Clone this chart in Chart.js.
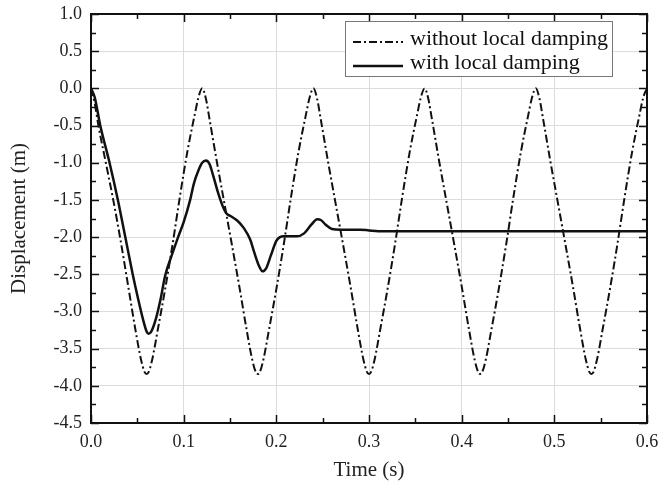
<!DOCTYPE html>
<html lang="en">
<head>
<meta charset="UTF-8">
<title>Displacement vs Time</title>
<script src="https://cdn.jsdelivr.net/npm/chart.js@4.4.0/dist/chart.umd.min.js"></script>
<style>
  html, body { margin: 0; padding: 0; background: #fff; }
  #wrap { width: 659px; height: 486px; position: relative; }
</style>
</head>
<body>
<div id="wrap"><canvas id="dispChart"></canvas></div>
<script>
// time (s) and displacement (m)
const tNoDamp = [
  0, 0.004, 0.008, 0.016, 0.024, 0.032, 0.04, 0.048, 0.054, 0.058, 0.06, 0.062, 0.066, 0.072, 0.08, 0.088, 0.096, 0.104, 0.112, 0.116,
  0.12, 0.124, 0.128, 0.136, 0.144, 0.152, 0.16, 0.168, 0.174, 0.178, 0.18, 0.182, 0.186, 0.192, 0.2, 0.208, 0.216, 0.224, 0.232, 0.236,
  0.24, 0.244, 0.248, 0.256, 0.264, 0.272, 0.28, 0.288, 0.294, 0.298, 0.3, 0.302, 0.306, 0.312, 0.32, 0.328, 0.336, 0.344, 0.352, 0.356,
  0.36, 0.364, 0.368, 0.376, 0.384, 0.392, 0.4, 0.408, 0.414, 0.418, 0.42, 0.422, 0.426, 0.432, 0.44, 0.448, 0.456, 0.464, 0.472, 0.476,
  0.48, 0.484, 0.488, 0.496, 0.504, 0.512, 0.52, 0.528, 0.534, 0.538, 0.54, 0.542, 0.546, 0.552, 0.56, 0.568, 0.576, 0.584, 0.592, 0.596, 0.6
];
const yNoDamp = [
  0, -0.2, -0.5, -1.0, -1.5, -2.05, -2.65, -3.25, -3.65, -3.82, -3.84, -3.82, -3.65, -3.25, -2.7, -2.1, -1.45, -0.85, -0.35, -0.12,
  0, -0.14, -0.42, -1.0, -1.55, -2.1, -2.66, -3.25, -3.65, -3.82, -3.84, -3.82, -3.65, -3.25, -2.7, -2.1, -1.45, -0.85, -0.35, -0.12,
  0, -0.14, -0.42, -1.0, -1.55, -2.1, -2.66, -3.25, -3.65, -3.82, -3.84, -3.82, -3.65, -3.25, -2.7, -2.1, -1.45, -0.85, -0.35, -0.12,
  0, -0.14, -0.42, -1.0, -1.55, -2.1, -2.66, -3.25, -3.65, -3.82, -3.84, -3.82, -3.65, -3.25, -2.7, -2.1, -1.45, -0.85, -0.35, -0.12,
  0, -0.14, -0.42, -1.0, -1.55, -2.1, -2.66, -3.25, -3.65, -3.82, -3.84, -3.82, -3.65, -3.25, -2.7, -2.1, -1.45, -0.85, -0.35, -0.12, 0
];
const tDamp = [
  0, 0.004, 0.01, 0.02, 0.029, 0.037, 0.045, 0.051, 0.056, 0.06, 0.062, 0.065, 0.07, 0.075, 0.08, 0.087, 0.094, 0.1, 0.107, 0.111,
  0.116, 0.12, 0.124, 0.128, 0.132, 0.137, 0.142, 0.146, 0.151, 0.158, 0.165, 0.172, 0.176, 0.181, 0.185, 0.189, 0.194, 0.2, 0.204, 0.208,
  0.215, 0.222, 0.23, 0.238, 0.244, 0.248, 0.253, 0.26, 0.27, 0.29, 0.3, 0.31, 0.35, 0.4, 0.45, 0.5, 0.55, 0.6
];
const yDamp = [
  0, -0.12, -0.5, -1.0, -1.5, -2.0, -2.5, -2.84, -3.1, -3.27, -3.3, -3.27, -3.1, -2.84, -2.52, -2.25, -2.0, -1.8, -1.5, -1.28,
  -1.1, -1.0, -0.97, -1.02, -1.18, -1.4, -1.58, -1.68, -1.72, -1.78, -1.88, -2.04, -2.2, -2.38, -2.46, -2.42, -2.25, -2.05, -2.0, -1.99,
  -1.99, -1.99, -1.95, -1.83, -1.76, -1.77, -1.83, -1.89, -1.9, -1.9, -1.91, -1.92, -1.92, -1.92, -1.92, -1.92, -1.92, -1.92
];
const seriesLabels = ['without local damping', 'with local damping'];

const serif = '"Liberation Serif", "Times New Roman", serif';

// fixed axis boxes, no extra label overflow padding
function fixBox(size) {
  return s => {
    if (s.isHorizontal()) s.height = size; else s.width = size;
    s.paddingTop = s.paddingBottom = s.paddingLeft = s.paddingRight = 0;
  };
}

// frame, inward ticks and the boxed legend inside the plot
const frameAndLegend = {
  id: 'frameAndLegend',
  afterDatasetsDraw(chart) {
    const { ctx, chartArea: a, scales: { x, y } } = chart;
    ctx.save();
    ctx.strokeStyle = '#111';
    ctx.lineWidth = 1.5;
    ctx.beginPath();
    for (let i = 0; i <= 12; i++) {
      const px = Math.round(x.getPixelForValue(i * 0.05)) + 0.5;
      const len = i % 2 === 0 ? 8 : 5;
      ctx.moveTo(px, a.bottom); ctx.lineTo(px, a.bottom - len);
      ctx.moveTo(px, a.top); ctx.lineTo(px, a.top + len);
    }
    for (let i = 0; i <= 22; i++) {
      const py = Math.round(y.getPixelForValue(-4.5 + i * 0.25)) + 0.5;
      const len = i % 2 === 0 ? 8 : 5;
      ctx.moveTo(a.left, py); ctx.lineTo(a.left + len, py);
      ctx.moveTo(a.right, py); ctx.lineTo(a.right - len, py);
    }
    ctx.stroke();
    ctx.lineWidth = 2;
    ctx.strokeRect(a.left, a.top, a.right - a.left, a.bottom - a.top);

    // legend
    const bx = a.right - 35, by = a.top + 7, bw = 267, bh = 55;
    ctx.fillStyle = '#fff';
    ctx.fillRect(bx - bw, by, bw, bh);
    ctx.strokeStyle = '#777';
    ctx.lineWidth = 1;
    ctx.strokeRect(bx - bw + 0.5, by + 0.5, bw, bh);
    const rows = [by + 24, by + 48];
    ctx.font = '22px ' + serif;
    ctx.textBaseline = 'alphabetic';
    ctx.fillStyle = '#111';
    chart.data.datasets.forEach((ds, i) => {
      const ly = rows[i];
      ctx.save();
      ctx.strokeStyle = ds.borderColor;
      ctx.lineWidth = ds.borderWidth;
      ctx.setLineDash(ds.borderDash || []);
      ctx.beginPath();
      ctx.moveTo(bx - bw + 8, ly - 3);
      ctx.lineTo(bx - bw + 58, ly - 3);
      ctx.stroke();
      ctx.restore();
      ctx.fillText(ds.label, bx - bw + 65, ly);
    });
    ctx.restore();
  }
};

new Chart(document.getElementById('dispChart'), {
  type: 'line',
  data: {
    datasets: [
      {
        label: seriesLabels[0],
        data: tNoDamp.map((t, i) => ({ x: t, y: yNoDamp[i] })),
        borderColor: '#111',
        borderWidth: 2,
        borderDash: [8, 3, 2, 3],
        pointRadius: 0,
        cubicInterpolationMode: 'monotone',
        fill: false
      },
      {
        label: seriesLabels[1],
        data: tDamp.map((t, i) => ({ x: t, y: yDamp[i] })),
        borderColor: '#111',
        borderWidth: 2.5,
        pointRadius: 0,
        cubicInterpolationMode: 'monotone',
        fill: false
      }
    ]
  },
  options: {
    responsive: true,
    maintainAspectRatio: false,
    animation: false,
    layout: { padding: { top: 14, right: 12, left: 0, bottom: 0 } },
    plugins: { legend: { display: false }, tooltip: { enabled: false } },
    scales: {
      x: {
        type: 'linear',
        min: 0,
        max: 0.6,
        afterFit: fixBox(63),
        border: { display: false },
        grid: { color: '#dcdcdc', lineWidth: 1, drawTicks: false },
        ticks: {
          stepSize: 0.1,
          padding: 8,
          color: '#222',
          font: { family: serif, size: 18 },
          callback: v => Number(v).toFixed(1)
        },
        title: {
          display: true,
          text: 'Time (s)',
          color: '#222',
          font: { family: serif, size: 21 },
          padding: { top: 0, bottom: 3 }
        }
      },
      y: {
        min: -4.5,
        max: 1.0,
        afterFit: fixBox(91),
        border: { display: false },
        grid: { color: '#dcdcdc', lineWidth: 1, drawTicks: false },
        ticks: {
          stepSize: 0.5,
          padding: 9,
          color: '#222',
          font: { family: serif, size: 18 },
          callback: v => Number(v).toFixed(1)
        },
        title: {
          display: true,
          text: 'Displacement (m)',
          color: '#222',
          font: { family: serif, size: 21 },
          padding: { top: 7, bottom: 0 }
        }
      }
    }
  },
  plugins: [frameAndLegend]
});
</script>
</body>
</html>
